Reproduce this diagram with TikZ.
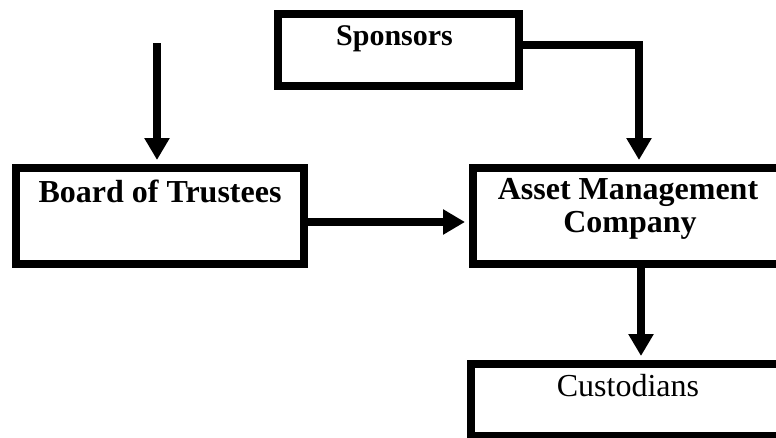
\documentclass[tikz,border=0pt]{standalone}
\usepackage{fontspec}
\setmainfont{Liberation Serif}
\usetikzlibrary{arrows.meta}
\begin{document}
\begin{tikzpicture}[x=1pt,y=-1pt,
  box/.style={draw=black,line width=8pt,rectangle,inner sep=0pt,line join=miter},
  lbl/.style={inner sep=0pt,anchor=base,font=\fontsize{32}{33}\selectfont},
  blbl/.style={lbl,font=\fontsize{32}{33}\selectfont\bfseries},
  arr/.style={line width=8.5pt,line join=miter,-{Triangle[width=24pt,length=22pt]},shorten >=4pt}]
\useasboundingbox (0,0) rectangle (776,437);
\clip (0,0) rectangle (776,437);
\fill[white] (0,0) rectangle (776,437);
% boxes
\node[box,minimum width=241pt,minimum height=72pt] (spons) at (398.5,49.5) {};
\node[box,minimum width=288pt,minimum height=96pt] (board) at (160,216) {};
\node[box,minimum width=317pt,minimum height=96pt] (amc) at (631.5,216) {};
\node[box,minimum width=319pt,minimum height=72pt] (cust) at (630.5,400) {};
% labels
\node[blbl,font=\fontsize{30}{33}\selectfont\bfseries] (sponsT) at (394.5,45) {Sponsors};
\node[blbl] (boardT) at (160,202) {Board of Trustees};
\node[blbl] (amcT1) at (628,199) {Asset Management};
\node[blbl] (amcT2) at (630,232) {Company};
\node[lbl] (custT) at (628,396) {Custodians};
% connectors
\coordinate (src) at (157,43);
\coordinate (bend) at (639,45);
\coordinate (down) at (641,264);
\draw[arr] (src) -- (src |- board.north);
\draw[arr] (spons.east |- bend) -- (bend) -- (bend |- amc.north);
\draw[arr] ([yshift=-6pt]board.east) -- ([yshift=-6pt]amc.west);
\draw[arr] (down) -- (down |- cust.north);
\end{tikzpicture}
\end{document}
